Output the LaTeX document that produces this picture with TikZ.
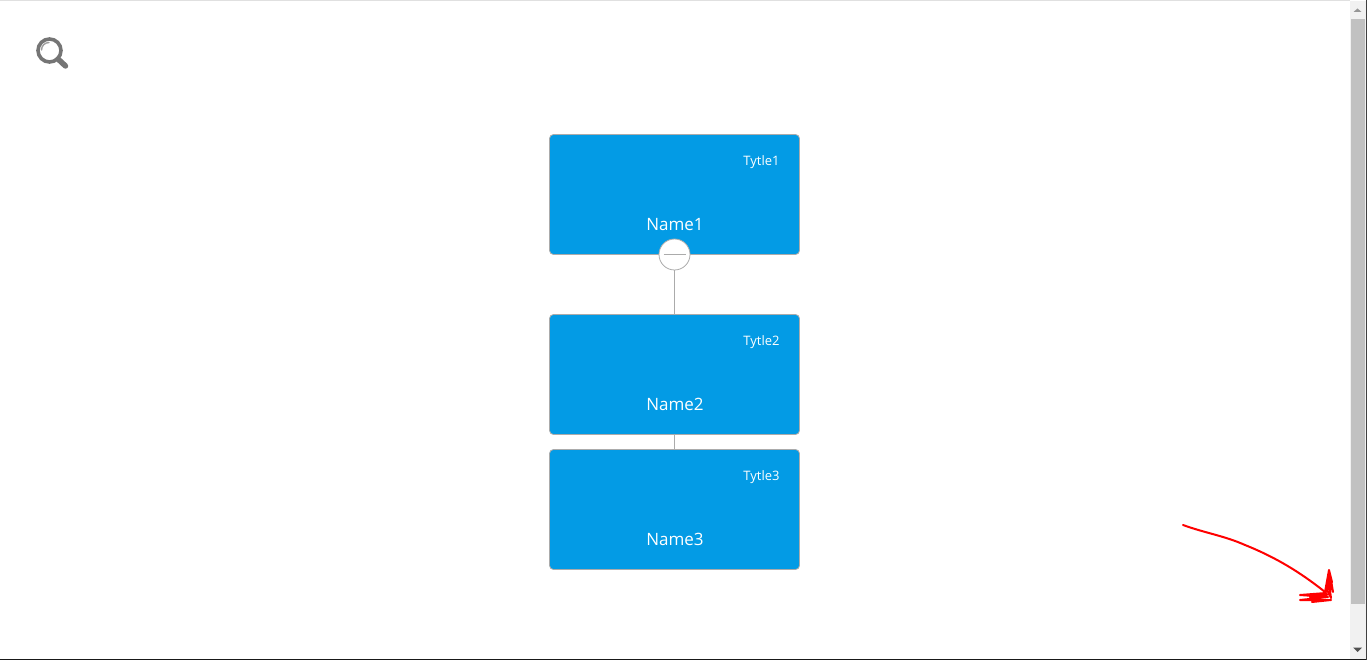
\documentclass[tikz,border=0pt]{standalone}
\usepackage{fontspec}
\setmainfont{Open Sans}
\usepackage{xcolor}
\definecolor{boxblue}{HTML}{039BE5}
\definecolor{boxedge}{HTML}{ABABAB}
\definecolor{lensgray}{HTML}{757575}
\definecolor{trackgray}{HTML}{F1F1F1}
\definecolor{thumbgray}{HTML}{C1C1C1}
\definecolor{arrowgray}{HTML}{505050}
\tikzset{
	cardbox/.style={draw=boxedge,fill=boxblue,rounded corners=4pt,line width=0.8pt,minimum width=250pt,minimum height=120pt,inner sep=0pt},
	cardname/.style={text=white,font=\fontsize{17}{19}\selectfont,inner sep=0pt},
	cardtitle/.style={text=white,font=\fontsize{13}{15}\selectfont,inner sep=0pt},
	link/.style={draw=boxedge,line width=0.8pt},
	scribble/.style={draw=red,line width=2pt,line cap=round,line join=round}
}
\begin{document}
\begin{tikzpicture}[x=1pt,y=-1pt]
		\useasboundingbox (0,0) rectangle (1367,660);
		\fill[white] (0,0) rectangle (1367,660);
		% page edges
		\fill[black!12] (0,0) rectangle (1350,1.2);
		\fill[black!90] (0,658.8) rectangle (1367,660);
		\fill[black!75] (1366,0) rectangle (1367,660);
		% scrollbar
		\fill[trackgray] (1350,1) rectangle (1366,659);
		\fill[thumbgray] (1351,19) rectangle (1365,604);
		\fill[arrowgray!60] (1353.5,12) -- (1361.5,12) -- (1357.5,8.5) -- cycle;
		\fill[arrowgray] (1353,647.5) -- (1362,647.5) -- (1357.5,652) -- cycle;
		% magnifier
		\draw[lensgray,line width=3.6pt] (49.5,50.5) circle (11.5);
		\draw[lensgray!70,line width=1.4pt,line cap=round] (41.5,50) arc (180:270:7.5);
		\draw[lensgray,line width=5.5pt,line cap=round] (58,59) -- (65.5,66);
		% cards
		\node[cardbox] (A) at (674.5,194.5) {};
		\node[cardbox] (B) at (674.5,374.5) {};
		\node[cardbox] (C) at (674.5,509.5) {};
		\node[cardtitle] (At) at (761.5,162) {Tytle1};
		\node[cardtitle] (Bt) at (761.5,342) {Tytle2};
		\node[cardtitle] (Ct) at (761.5,477) {Tytle3};
		\node[cardname] (An) at (675,224.2) {Name1};
		\node[cardname] (Bn) at (675,404.2) {Name2};
		\node[cardname] (Cn) at (675,539.2) {Name3};
		\node[circle,draw=boxedge,fill=white,line width=0.8pt,minimum size=31pt,inner sep=0pt] (T) at (674.5,254.5) {};
		\coordinate (Tl) at (663.5,254.5);
		\coordinate (Tr) at (685.5,254.5);
		%
		\path[link]
		% vertical links
		(T) edge (B)
		(B) edge (C)
		% minus sign
		(Tl) edge (Tr);
		% hand drawn arrow
		\draw[scribble] (1183,525) .. controls (1205,533) and (1225,536) .. (1245,545) .. controls (1275,557) and (1300,572) .. (1325,592);
		\draw[scribble] (1325,592) -- (1329,570) -- (1332,582) -- (1326,592) -- (1330,574) -- (1333,592) -- (1328,578) -- (1331,598) -- (1327,590);
		\draw[scribble] (1326,593) -- (1300,595) -- (1328,597) -- (1300,600) -- (1331,600) -- (1312,602) -- (1325,596) -- (1310,597) -- (1330,594);
	\end{tikzpicture}
\end{document}
